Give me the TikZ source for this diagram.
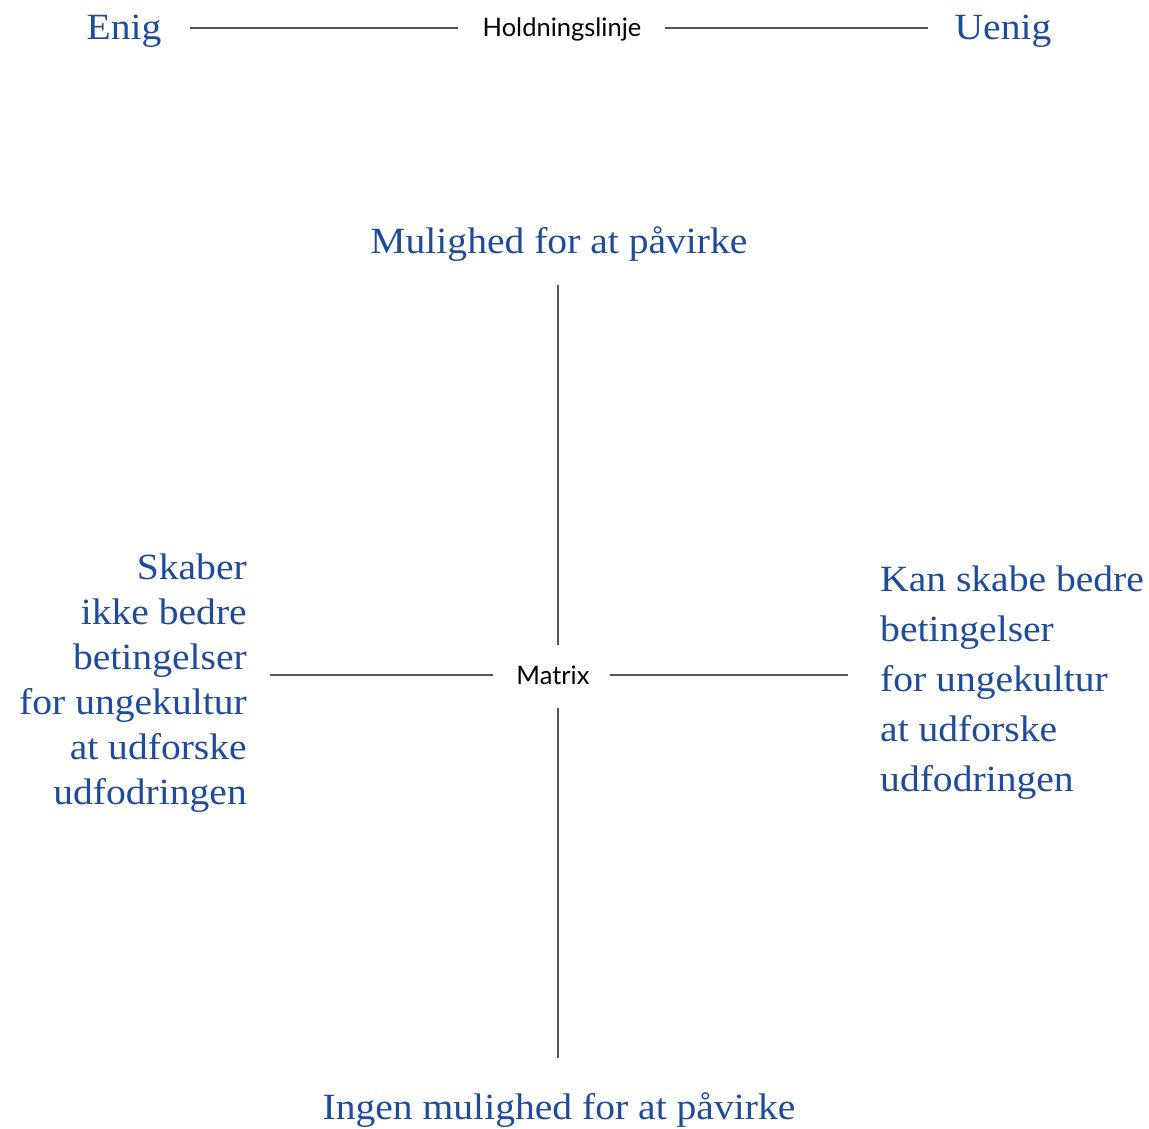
\documentclass[tikz,border=0pt]{standalone}
\usepackage{fontspec}
\setmainfont[FakeStretch=1.07]{Liberation Serif}
\newfontfamily\labfont{Lato}
\definecolor{blueT}{HTML}{1E4C9A}
\definecolor{lineC}{HTML}{555555}
\begin{document}
\begin{tikzpicture}[x=1pt,y=-1pt,
  blue/.style={text=blueT,font=\fontsize{37}{45}\selectfont,inner sep=0pt},
  lab/.style={font=\labfont\fontsize{25.5}{30}\selectfont,inner sep=0pt},
  ln/.style={draw=lineC,line width=1.2pt}]
\useasboundingbox (0,0) rectangle (1149,1128);
\node[blue,anchor=base] (enig) at (124,39) {Enig};
\node[blue,anchor=base] (uenig) at (1003,39) {Uenig};
\node[lab,anchor=base] (hold) at (562,36) {Holdningslinje};
\coordinate (h1) at (190,28);
\coordinate (h2) at (458,28);
\coordinate (h3) at (665,28);
\coordinate (h4) at (928,28);
\draw[ln] (h1) -- (h2);
\draw[ln] (h3) -- (h4);
\node[blue,anchor=base] (top) at (559,253) {Mulighed for at påvirke};
\node[blue,anchor=base] (bot) at (559,1119) {Ingen mulighed for at påvirke};
\node[lab,anchor=base] (mat) at (553,684) {Matrix};
\coordinate (v1) at (558,285);
\coordinate (v2) at (558,645);
\coordinate (v3) at (558,708);
\coordinate (v4) at (558,1058);
\coordinate (l1) at (270,675);
\coordinate (l2) at (493,675);
\coordinate (r1) at (610,675);
\coordinate (r2) at (848,675);
\draw[ln] (v1) -- (v2);
\draw[ln] (v3) -- (v4);
\draw[ln] (l1) -- (l2);
\draw[ln] (r1) -- (r2);
\node[blue,align=right,anchor=east] (left) at (247,683) {Skaber\\ikke bedre\\betingelser\\for ungekultur\\at udforske\\udfodringen};
\node[blue,align=left,anchor=west,font=\fontsize{37}{50}\selectfont] (right) at (880,683) {Kan skabe bedre\\betingelser\\for ungekultur\\at udforske\\udfodringen};
\end{tikzpicture}
\end{document}
